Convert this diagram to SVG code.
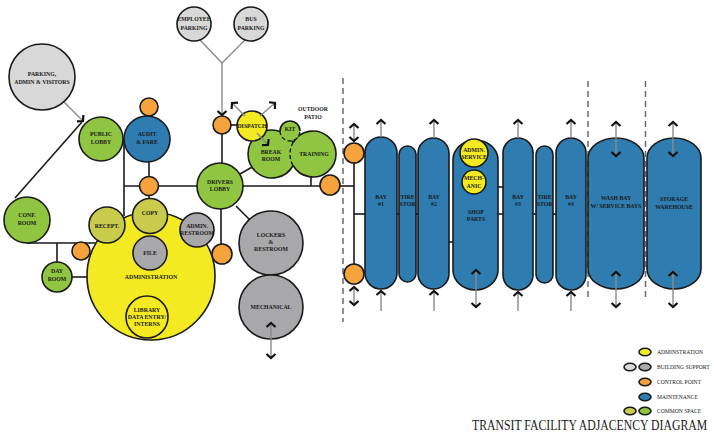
<svg xmlns="http://www.w3.org/2000/svg" width="714" height="444" viewBox="0 0 714 444">
<style>
.n{stroke:#1a1a1a;stroke-width:1.6}
.g{fill:#8fc540}.o{fill:#c9cb4c}.y{fill:#f4ea22}.gr{fill:#a8a8aa}.lg{fill:#d8d8d8}.b{fill:#2f7cb1}.cp{fill:#f6a23d}
.t{font-family:"Liberation Serif",serif;font-weight:bold;font-size:5.8px;text-anchor:middle;fill:#1a1a1a}
.lt{font-family:"Liberation Serif",serif;font-size:5.6px;fill:#1a1a1a}
.ln{stroke:#1a1a1a;stroke-width:1.6;fill:none}
.ar{stroke:#8a8a8a;stroke-width:1.4;fill:none}
.dash{stroke:#6a6a6a;stroke-width:1.5;stroke-dasharray:6 4;fill:none}
.dk{stroke:#1a1a1a;stroke-width:1.4;stroke-dasharray:4 2.5;fill:none}
</style>
<defs>
<marker id="ch" viewBox="-6 -6 12 12" markerWidth="12" markerHeight="12" markerUnits="userSpaceOnUse" orient="auto-start-reverse" refX="0" refY="0">
<path d="M-4,-4.5 L0,0 L-4,4.5" fill="none" stroke="#111" stroke-width="2.2"/>
</marker>
</defs>
<rect width="714" height="444" fill="#fff"/>

<g id="zones">
<line class="dash" x1="343" y1="78" x2="343" y2="322"/>
<line class="dash" x1="588" y1="81" x2="588" y2="300"/>
<line class="dash" x1="645.5" y1="81" x2="645.5" y2="300"/>
</g>

<g id="connectors">
<line class="ln" x1="124" y1="139" x2="124" y2="216"/>
<line class="ln" x1="124" y1="186" x2="340" y2="186"/>
<line class="ln" x1="340" y1="186" x2="354" y2="186"/>
<line class="ln" x1="149" y1="107" x2="149" y2="200"/>
<line class="ln" x1="15" y1="198" x2="82" y2="122"/>
<line class="ln" x1="27" y1="243" x2="100" y2="243"/>
<line class="ln" x1="57" y1="243" x2="57" y2="262"/>
<line class="ln" x1="72" y1="277" x2="90" y2="277"/>
<line class="ln" x1="222" y1="125" x2="222" y2="165"/>
<line class="ln" x1="222" y1="125" x2="240" y2="125"/>
<line class="ln" x1="240" y1="174" x2="254" y2="166"/>
<line class="ln" x1="221" y1="186" x2="221" y2="253"/>
<line class="ln" x1="236" y1="206" x2="250" y2="220"/>
<line class="ln" x1="311" y1="170" x2="311" y2="186"/>
<line class="ln" x1="354" y1="153" x2="354" y2="274"/>
<line class="ln" x1="354" y1="214" x2="366" y2="214"/>
<line class="ln" x1="396" y1="214" x2="400" y2="214"/>
<line class="ln" x1="415" y1="214" x2="419" y2="214"/>
<line class="ln" x1="448" y1="242" x2="454" y2="242"/>
<line class="ln" x1="497" y1="187" x2="503" y2="187"/>
<line class="ln" x1="497" y1="214" x2="503" y2="214"/>
<line class="ln" x1="532" y1="214" x2="537" y2="214"/>
<line class="ln" x1="552" y1="214" x2="557" y2="214"/>
<polyline class="ar" points="200,40 222,63 245,40"/>
<line class="ar" x1="222" y1="63" x2="222" y2="115" marker-end="url(#ch)"/>
<line class="ar" x1="64" y1="102" x2="83" y2="121" marker-end="url(#ch)"/>
</g>

<g id="parking-admin-visitors"><circle class="n lg" cx="42" cy="77" r="33"/><text class="t" x="42" y="76">PARKING,</text><text class="t" x="42" y="84">ADMIN &amp; VISITORS</text></g>
<g id="employee-parking"><circle class="n lg" cx="194" cy="24" r="17"/><text class="t" x="194" y="21">EMPLOYEE</text><text class="t" x="194" y="29.5">PARKING</text></g>
<g id="bus-parking"><circle class="n lg" cx="251" cy="24" r="17"/><text class="t" x="251" y="21">BUS</text><text class="t" x="251" y="29.5">PARKING</text></g>
<g id="public-lobby"><circle class="n g" cx="101" cy="139" r="22"/><text class="t" x="101" y="136">PUBLIC</text><text class="t" x="101" y="144">LOBBY</text></g>
<g id="audit-fare"><circle class="n b" cx="147" cy="139" r="23"/><text class="t" x="147" y="136">AUDIT</text><text class="t" x="147" y="144">&amp; FARE</text></g>
<g id="cp-audit-top"><circle class="n cp" cx="149" cy="107" r="9"/></g>
<g id="cp-audit-bottom"><circle class="n cp" cx="149" cy="186" r="9.5"/></g>
<g id="conf-room"><circle class="n g" cx="27" cy="220" r="23"/><text class="t" x="27" y="217">CONF.</text><text class="t" x="27" y="225">ROOM</text></g>
<g id="day-room"><circle class="n g" cx="57" cy="277" r="15"/><text class="t" x="57" y="273">DAY</text><text class="t" x="57" y="280.5">ROOM</text></g>
<g id="cp-admin"><circle class="n cp" cx="81" cy="251" r="9"/></g>
<g id="administration"><circle class="n y" cx="151" cy="276" r="64"/><text class="t" x="151" y="279">ADMINISTRATION</text></g>
<g id="copy"><circle class="n o" cx="150" cy="216" r="17.5"/><text class="t" x="150" y="215">COPY</text></g>
<g id="receipt"><circle class="n o" cx="107" cy="225" r="18"/><text class="t" x="107" y="228">RECEPT.</text></g>
<g id="admin-restroom"><circle class="n gr" cx="197" cy="230" r="17"/><text class="t" x="197" y="228">ADMIN.</text><text class="t" x="197" y="235">RESTROOM</text></g>
<g id="file"><circle class="n gr" cx="150" cy="253" r="17"/><text class="t" x="150" y="255">FILE</text></g>
<g id="library"><circle class="n y" cx="147" cy="317" r="21"/><text class="t" x="147" y="312">LIBRARY</text><text class="t" x="147" y="319">DATA ENTRY/</text><text class="t" x="147" y="326">INTERNS</text></g>
<g id="cp-drivers"><circle class="n cp" cx="222" cy="254" r="10"/></g>
<g id="drivers-lobby"><circle class="n g" cx="220" cy="186" r="23"/><text class="t" x="220" y="184">DRIVERS</text><text class="t" x="220" y="191">LOBBY</text></g>
<g id="lockers-restroom"><circle class="n gr" cx="271" cy="243" r="32"/><text class="t" x="271" y="237">LOCKERS</text><text class="t" x="271" y="244">&amp;</text><text class="t" x="271" y="251">RESTROOM</text></g>
<g id="mechanical"><circle class="n gr" cx="271" cy="307" r="32"/><text class="t" x="271" y="309">MECHANICAL</text></g>
<g id="break-room-training">
<circle class="g" cx="272" cy="154" r="24"/><circle class="g" cx="313" cy="154" r="23"/>
<path class="n" fill="none" d="M293.1,142.5 A24,24 0 1 0 293.1,165.5"/>
<path class="n" fill="none" d="M293.1,142.5 A23,23 0 1 1 293.1,165.5"/>
<path class="dk" d="M293.1,142.5 A23,23 0 0 0 293.1,165.5"/>
<text class="t" x="271" y="154">BREAK</text><text class="t" x="271" y="161">ROOM</text>
<text class="t" x="314" y="156">TRAINING</text>
</g>
<g id="kit"><circle class="g" cx="290" cy="131" r="10"/><path class="n" fill="none" d="M280,131 A10,10 0 0 1 300,131"/><path class="dk" d="M280,131 A10,10 0 0 0 300,131"/><text class="t" x="290" y="131">KIT</text></g>
<g id="cp-dispatch"><circle class="n cp" cx="222" cy="125" r="9"/></g>
<g id="dispatch"><circle class="n y" cx="252" cy="126" r="15"/><text class="t" x="252" y="128">DISPATCH</text></g>
<g id="outdoor-patio"><text class="t" x="313" y="111">OUTDOOR</text><text class="t" x="313" y="119">PATIO</text></g>
<g id="cp-training"><circle class="n cp" cx="330" cy="185" r="10"/></g>
<g id="cp-bay-top"><circle class="n cp" cx="354" cy="153" r="10"/></g>
<g id="cp-bay-bottom"><circle class="n cp" cx="354" cy="274" r="10"/></g>

<g id="bay-1"><rect class="n b" x="365" y="137" width="32" height="152" rx="16" ry="16"/><text class="t" x="381" y="199">BAY</text><text class="t" x="381" y="206">#1</text></g>
<g id="tire-stor-1"><rect class="n b" x="399" y="146" width="17" height="136" rx="8.5" ry="8.5"/><text class="t" x="407.5" y="199">TIRE</text><text class="t" x="407.5" y="206">STOR</text></g>
<g id="bay-2"><rect class="n b" x="418" y="138" width="31" height="151" rx="15.5" ry="15.5"/><text class="t" x="434" y="199">BAY</text><text class="t" x="434" y="206">#2</text></g>
<g id="shop-parts"><rect class="n b" x="453" y="140" width="45" height="150" rx="22.5" ry="20"/><text class="t" x="476" y="214">SHOP</text><text class="t" x="476" y="221">PARTS</text></g>
<g id="admin-service"><circle class="n y" cx="474" cy="153" r="14"/><text class="t" x="474" y="152">ADMIN.</text><text class="t" x="474" y="159">SERVICE</text></g>
<g id="mechanic"><circle class="n y" cx="474" cy="182" r="12"/><text class="t" x="474" y="180">MECH-</text><text class="t" x="474" y="187.5">ANIC</text></g>
<g id="bay-3"><rect class="n b" x="503" y="138" width="30" height="152" rx="15" ry="15"/><text class="t" x="518" y="199">BAY</text><text class="t" x="518" y="206">#3</text></g>
<g id="tire-stor-2"><rect class="n b" x="536" y="146" width="17" height="137" rx="8.5" ry="8.5"/><text class="t" x="544.5" y="199">TIRE</text><text class="t" x="544.5" y="206">STOR</text></g>
<g id="bay-4"><rect class="n b" x="556" y="138" width="30" height="152" rx="15" ry="15"/><text class="t" x="571" y="199">BAY</text><text class="t" x="571" y="206">#4</text></g>
<g id="wash-bay"><rect class="n b" x="588" y="138" width="56" height="151" rx="28" ry="20"/><text class="t" x="616" y="200">WASH BAY</text><text class="t" x="616" y="208">W/ SERVICE BAYS</text></g>
<g id="storage-warehouse"><rect class="n b" x="647" y="138" width="54" height="151" rx="27" ry="20"/><text class="t" x="674" y="201">STORAGE</text><text class="t" x="674" y="209">WAREHOUSE</text></g>

<g id="arrows">
<line class="ar" x1="245" y1="116" x2="232" y2="103" marker-end="url(#ch)"/>
<line class="ar" x1="260" y1="116" x2="275" y2="103" marker-end="url(#ch)"/>
<line class="ar" x1="257" y1="133" x2="268" y2="145" marker-end="url(#ch)"/>
<line class="ar" x1="271" y1="323" x2="271" y2="358" marker-start="url(#ch)" marker-end="url(#ch)"/>
<line class="ar" x1="354" y1="124" x2="354" y2="141" marker-start="url(#ch)" marker-end="url(#ch)"/>
<line class="ar" x1="354" y1="287" x2="354" y2="305" marker-start="url(#ch)" marker-end="url(#ch)"/>
<line class="ar" x1="381" y1="137" x2="381" y2="120" marker-end="url(#ch)"/>
<line class="ar" x1="434" y1="138" x2="434" y2="120" marker-end="url(#ch)"/>
<line class="ar" x1="518" y1="138" x2="518" y2="120" marker-end="url(#ch)"/>
<line class="ar" x1="571" y1="138" x2="571" y2="120" marker-end="url(#ch)"/>
<line class="ar" x1="381" y1="311" x2="381" y2="291" marker-end="url(#ch)"/>
<line class="ar" x1="434" y1="311" x2="434" y2="291" marker-end="url(#ch)"/>
<line class="ar" x1="518" y1="311" x2="518" y2="292" marker-end="url(#ch)"/>
<line class="ar" x1="571" y1="311" x2="571" y2="292" marker-end="url(#ch)"/>
<line class="ar" x1="476" y1="270" x2="476" y2="307" marker-start="url(#ch)" marker-end="url(#ch)"/>
<line class="ar" x1="616" y1="122" x2="616" y2="156" marker-start="url(#ch)" marker-end="url(#ch)"/>
<line class="ar" x1="616" y1="272" x2="616" y2="307" marker-start="url(#ch)" marker-end="url(#ch)"/>
<line class="ar" x1="673" y1="122" x2="673" y2="156" marker-start="url(#ch)" marker-end="url(#ch)"/>
<line class="ar" x1="673" y1="272" x2="673" y2="307" marker-start="url(#ch)" marker-end="url(#ch)"/>
</g>

<g id="legend">
<ellipse class="n y" cx="645" cy="352" rx="6" ry="3.8" stroke-width="1.2"/>
<text class="lt" x="657" y="354">ADMINSTRATION</text>
<ellipse class="n lg" cx="630" cy="367" rx="6" ry="3.8" stroke-width="1.2"/>
<ellipse class="n gr" cx="645" cy="367" rx="6" ry="3.8" stroke-width="1.2"/>
<text class="lt" x="657" y="369">BUILDING SUPPORT</text>
<ellipse class="n cp" cx="645" cy="382" rx="6" ry="3.8" stroke-width="1.2"/>
<text class="lt" x="657" y="384">CONTROL POINT</text>
<ellipse class="n b" cx="645" cy="397" rx="6" ry="3.8" stroke-width="1.2"/>
<text class="lt" x="657" y="399">MAINTENANCE</text>
<ellipse class="n o" cx="630" cy="411" rx="6" ry="3.8" stroke-width="1.2"/>
<ellipse class="n g" cx="645" cy="411" rx="6" ry="3.8" stroke-width="1.2"/>
<text class="lt" x="657" y="413">COMMON SPACE</text>
</g>
<g id="title" transform="translate(472,430) scale(0.84,1)">
<text x="0" y="0" font-family="Liberation Serif, serif" font-size="14" fill="#1a1a1a">TRANSIT FACILITY ADJACENCY DIAGRAM</text>
</g>
</svg>
